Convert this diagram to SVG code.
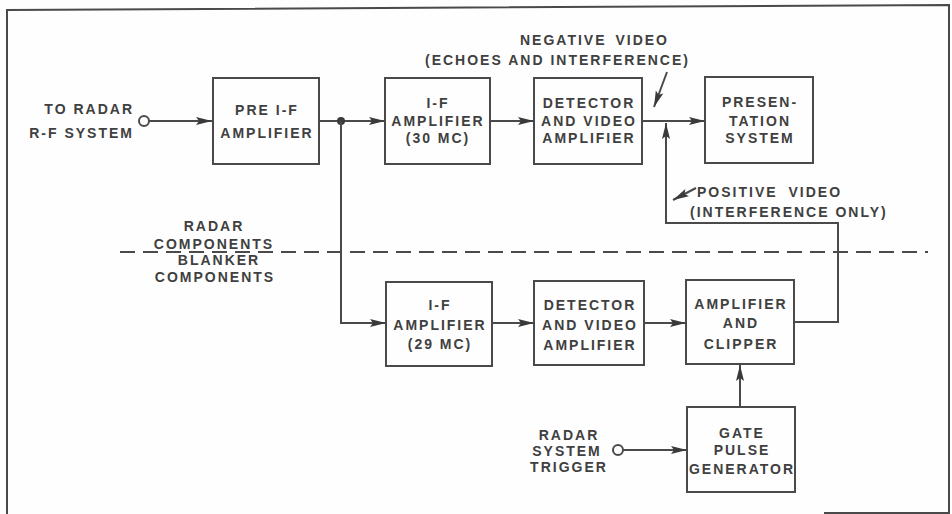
<svg xmlns="http://www.w3.org/2000/svg" width="952" height="514" viewBox="0 0 952 514">
<defs>
<style>
.box{fill:none;stroke:#4a4a4a;stroke-width:2}
.ln{fill:none;stroke:#4a4a4a;stroke-width:2}
.t{font-family:"Liberation Sans",Arial,sans-serif;font-weight:bold;font-size:14px;fill:#404040;letter-spacing:2px}
.c{text-anchor:middle}
.e{text-anchor:end}
</style>
<marker id="ah" markerUnits="userSpaceOnUse" markerWidth="17" markerHeight="9" refX="16" refY="4.5" orient="auto">
<path d="M0,0.5 L16,4.5 L0,8.5 L3,4.5 z" fill="#3a3a3a"/>
</marker>
</defs>
<rect x="0" y="0" width="952" height="514" fill="#fefefe"/>
<path class="ln" d="M7,514 L7,10 L949,5 L949,513 L824,513"/>

<g id="connectors">
<circle cx="144" cy="121" r="5" fill="#fefefe" stroke="#4a4a4a" stroke-width="2"/>
<line class="ln" x1="149" y1="121" x2="212" y2="121" marker-end="url(#ah)"/>
<line class="ln" x1="319" y1="121" x2="385" y2="121" marker-end="url(#ah)"/>
<circle cx="341" cy="121" r="4" fill="#3a3a3a"/>
<line class="ln" x1="490" y1="121" x2="534" y2="121" marker-end="url(#ah)"/>
<line class="ln" x1="642" y1="121" x2="705" y2="121" marker-end="url(#ah)"/>
<polyline class="ln" points="341,121 341,323 386,323" marker-end="url(#ah)"/>
<line class="ln" x1="492" y1="323" x2="534" y2="323" marker-end="url(#ah)"/>
<line class="ln" x1="644" y1="323" x2="686" y2="323" marker-end="url(#ah)"/>
<polyline class="ln" points="794,322 838,322 838,223 666,223 666,123" marker-end="url(#ah)"/>
<line class="ln" x1="740" y1="407" x2="740" y2="365" marker-end="url(#ah)"/>
<circle cx="618" cy="450" r="5" fill="#fefefe" stroke="#4a4a4a" stroke-width="2"/>
<line class="ln" x1="623" y1="450" x2="687" y2="450" marker-end="url(#ah)"/>
<line class="ln" x1="667" y1="72" x2="654" y2="107" marker-end="url(#ah)"/>
<line class="ln" x1="696" y1="188" x2="673" y2="200" marker-end="url(#ah)"/>
<line class="ln" x1="120" y1="252" x2="928" y2="252" stroke-dasharray="15 8"/>
</g>

<g id="labels">
<text class="t e" x="134" y="114">TO RADAR</text>
<text class="t e" x="134" y="138">R-F SYSTEM</text>
<text class="t" x="520" y="45" style="word-spacing:3px">NEGATIVE VIDEO</text>
<text class="t" x="425" y="65">(ECHOES AND INTERFERENCE)</text>
<text class="t" x="697" y="197" style="word-spacing:5px">POSITIVE VIDEO</text>
<text class="t" x="690" y="217">(INTERFERENCE ONLY)</text>
<text class="t c" x="214" y="231">RADAR</text>
<text class="t c" x="214" y="249">COMPONENTS</text>
<text class="t c" x="219" y="265">BLANKER</text>
<text class="t c" x="215" y="282">COMPONENTS</text>
<text class="t c" x="569" y="440">RADAR</text>
<text class="t c" x="567" y="456">SYSTEM</text>
<text class="t c" x="569" y="472">TRIGGER</text>
</g>

<g id="pre-if-amplifier">
<rect class="box" x="213" y="78" width="106" height="86"/>
<text class="t c" x="267" y="115">PRE I-F</text>
<text class="t c" x="267" y="138">AMPLIFIER</text>
</g>
<g id="if-amplifier-30">
<rect class="box" x="385" y="78" width="105" height="86"/>
<text class="t c" x="438" y="108">I-F</text>
<text class="t c" x="438" y="126">AMPLIFIER</text>
<text class="t c" x="438" y="143">(30 MC)</text>
</g>
<g id="detector-top">
<rect class="box" x="534" y="78" width="108" height="86"/>
<text class="t c" x="589" y="108">DETECTOR</text>
<text class="t c" x="589" y="126">AND VIDEO</text>
<text class="t c" x="589" y="143">AMPLIFIER</text>
</g>
<g id="presentation-system">
<rect class="box" x="705" y="77" width="108" height="86"/>
<text class="t c" x="760" y="107">PRESEN-</text>
<text class="t c" x="760" y="126">TATION</text>
<text class="t c" x="760" y="143">SYSTEM</text>
</g>
<g id="if-amplifier-29">
<rect class="box" x="386" y="282" width="106" height="84"/>
<text class="t c" x="440" y="310">I-F</text>
<text class="t c" x="440" y="330">AMPLIFIER</text>
<text class="t c" x="440" y="349">(29 MC)</text>
</g>
<g id="detector-bottom">
<rect class="box" x="534" y="281" width="110" height="84"/>
<text class="t c" x="590" y="310">DETECTOR</text>
<text class="t c" x="590" y="330">AND VIDEO</text>
<text class="t c" x="590" y="350">AMPLIFIER</text>
</g>
<g id="amplifier-clipper">
<rect class="box" x="686" y="280" width="108" height="84"/>
<text class="t c" x="741" y="309">AMPLIFIER</text>
<text class="t c" x="741" y="328">AND</text>
<text class="t c" x="741" y="349">CLIPPER</text>
</g>
<g id="gate-pulse-generator">
<rect class="box" x="687" y="407" width="108" height="85"/>
<text class="t c" x="742" y="438">GATE</text>
<text class="t c" x="742" y="455">PULSE</text>
<text class="t c" x="742" y="474">GENERATOR</text>
</g>
</svg>
